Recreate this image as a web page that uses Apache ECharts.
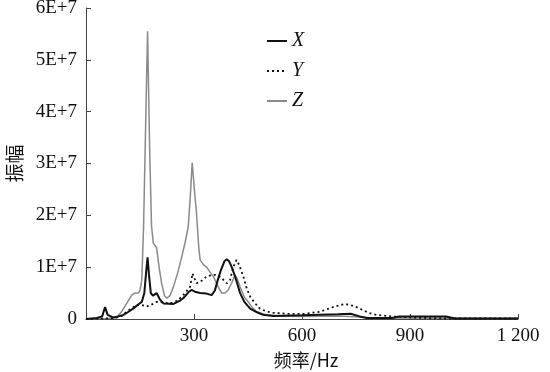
<!DOCTYPE html>
<html><head><meta charset="utf-8">
<script src="https://cdn.jsdelivr.net/npm/echarts@6/dist/echarts.min.js"></script>
<style>html,body{margin:0;padding:0;background:#fff}#c{width:550px;height:372px}</style>
</head><body><div id="c"></div>
<script>
// amplitudes in units of 1E+7
const freqX = [0,30,45,53,60,75,90,104,118,131,145,155,162,167,171,175,180,186,196,205,215,243,260,270,285,293,305,317,335,349,358,366,375,385,391,397,405,415,428,440,456,475,492,520,600,700,735,760,780,850,870,1000,1025,1200];
const ampX  = [0,0.02,0.05,0.23,0.08,0.03,0.05,0.08,0.14,0.2,0.28,0.33,0.5,0.9,1.19,0.85,0.5,0.45,0.5,0.38,0.3,0.29,0.35,0.4,0.52,0.56,0.52,0.5,0.49,0.46,0.55,0.75,0.95,1.12,1.15,1.12,1.0,0.8,0.5,0.33,0.2,0.13,0.08,0.06,0.07,0.09,0.1,0.05,0.02,0.02,0.05,0.05,0.01,0.01];
const freqY = [0,50,80,100,113,125,141,155,168,180,196,215,233,250,261,275,289,296,300,307,318,335,350,363,375,391,400,409,418,425,437,446,456,470,483,500,520,560,604,650,690,719,740,761,785,807,850,900,993,1200];
const ampY  = [0,0.01,0.02,0.06,0.14,0.2,0.27,0.27,0.24,0.27,0.33,0.32,0.3,0.34,0.4,0.5,0.62,0.88,0.8,0.69,0.72,0.82,0.85,0.85,0.8,0.69,0.75,1.0,1.14,1.05,0.82,0.6,0.43,0.3,0.2,0.15,0.12,0.1,0.1,0.14,0.24,0.29,0.26,0.2,0.12,0.08,0.05,0.03,0.01,0.01];
const freqZ = [0,60,85,100,113,127,136,145,150,155,160,165,171,177,182,187,196,203,210,218,225,233,243,255,266,276,284,290,295,301,307,313,317,326,335,345,354,365,377,386,395,405,414,420,428,440,451,462,474,502,540,600,700,760,800,1200];
const ampZ  = [0,0.01,0.03,0.15,0.3,0.46,0.5,0.5,0.55,0.75,1.8,3.5,5.55,3.2,1.8,1.46,1.38,1.0,0.69,0.45,0.4,0.45,0.62,0.9,1.2,1.5,1.78,2.4,3.02,2.5,2.04,1.4,1.14,1.05,1.0,0.9,0.82,0.65,0.5,0.5,0.56,0.7,0.85,0.78,0.62,0.42,0.33,0.22,0.14,0.08,0.06,0.05,0.06,0.04,0.02,0.01];
const seriesNames = ['X','Y','Z'];
const xTicks = {0:'', 300:'300', 600:'600', 900:'900', 1200:'1 200'};

const pairs = (f,a) => f.map((v,i)=>[v,a[i]]);
const serif = 'Liberation Serif, Noto Sans CJK SC, serif';
const chart = echarts.init(document.getElementById('c'), null, {renderer:'canvas'});
chart.setOption({
  animation:false,
  backgroundColor:'#fff',
  grid:{left:86,right:32,top:8,bottom:53,containLabel:false,outerBoundsMode:'none'},
  legend:{
    orient:'vertical', left:261, top:26, itemWidth:20, itemHeight:14, itemGap:10,
    itemStyle:{opacity:0},
    textStyle:{fontFamily:serif, fontStyle:'italic', fontSize:20, lineHeight:20, color:'#111'},
    data:seriesNames
  },
  xAxis:{
    type:'value', min:0, max:1200, interval:300,
    name:'频率/Hz', nameLocation:'middle', nameGap:28,
    nameTextStyle:{fontFamily:'Noto Sans CJK SC, Liberation Serif', fontSize:18, color:'#111', padding:[0,0,0,8]},
    axisLine:{lineStyle:{color:'#444',width:1}},
    axisTick:{inside:true,length:5,lineStyle:{color:'#444'}},
    splitLine:{show:false},
    axisLabel:{fontFamily:serif, fontSize:19, color:'#111', margin:8, formatter:v=>xTicks[v]!==undefined?xTicks[v]:String(v)}
  },
  yAxis:{
    type:'value', min:0, max:6, interval:1,
    name:'振幅', nameLocation:'middle', nameGap:62, nameRotate:90,
    nameTextStyle:{fontFamily:'Noto Sans CJK SC, Liberation Serif', fontSize:19, color:'#111'},
    axisLine:{show:true,lineStyle:{color:'#444',width:1}},
    axisTick:{show:true,inside:true,length:5,lineStyle:{color:'#444'}},
    splitLine:{show:false},
    axisLabel:{fontFamily:serif, fontSize:19, color:'#111', margin:9, formatter:v=>v===0?'0':v+'E+7'}
  },
  series:[
    {name:'X', type:'line', symbol:'none', data:pairs(freqX,ampX), lineStyle:{color:'#111',width:2}, itemStyle:{color:'#111'}, z:3},
    {name:'Y', type:'line', symbol:'none', data:pairs(freqY,ampY), lineStyle:{color:'#111',width:1.8,type:[2,3]}, itemStyle:{color:'#111'}, z:2},
    {name:'Z', type:'line', symbol:'none', data:pairs(freqZ,ampZ), lineStyle:{color:'#8a8a8a',width:1.5}, itemStyle:{color:'#8a8a8a'}, z:1}
  ]
});
</script></body></html>
